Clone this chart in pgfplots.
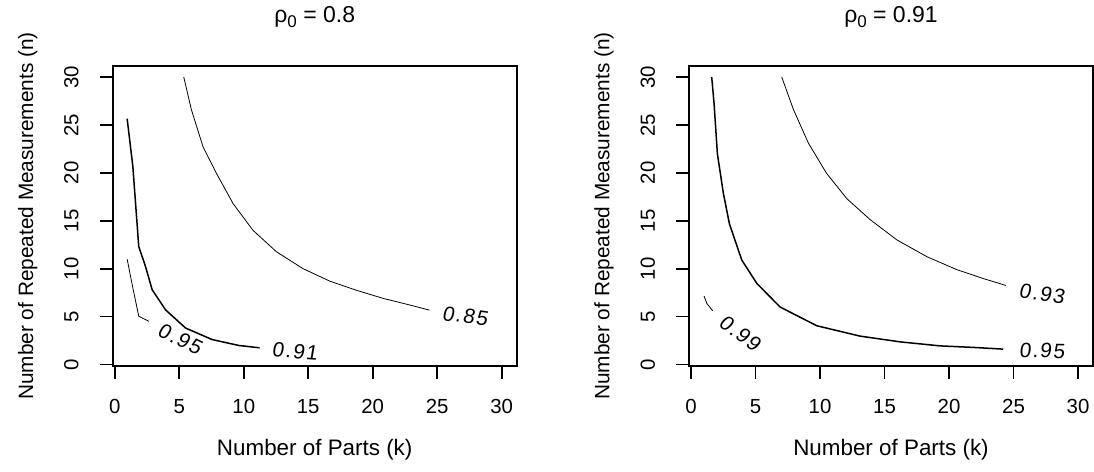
\documentclass[border=0pt]{standalone}
\usepackage{pgfplots}
\pgfplotsset{compat=1.18}
\usepackage{fontspec}
\setmainfont{Liberation Sans}
\newfontfamily\hfont[FakeSlant=0.1, LetterSpace=8]{Liberation Sans}
\newcommand{\tck}{\fontsize{10.2bp}{12bp}\selectfont}
\newcommand{\xlab}{\fontsize{11.2bp}{13bp}\selectfont}
\newcommand{\ylab}{\fontsize{10.4bp}{12bp}\selectfont}
\newcommand{\ttl}{\fontsize{11.5bp}{14bp}\selectfont}
\tikzset{contlab/.style={font=\hfont\fontsize{10.4bp}{12bp}\selectfont, inner sep=0pt}}
\begin{document}
\begin{tikzpicture}
\path[use as bounding box] (0,0) rectangle (547bp,236bp);
\pgfplotsset{myaxis/.style={scale only axis, width=202bp, height=150bp,
  anchor=south west,
  xmin=-0.16, xmax=31.16, ymin=-0.16, ymax=31.16,
  xtick={0,5,...,30}, ytick={0,5,...,30},
  tick pos=left, tick align=outside, major tick length=6.5bp,
  axis line style={line width=0.9bp},
  tick style={black, line width=0.9bp},
  tick label style={font=\tck},
  /pgf/number format/assume math mode=true,
  yticklabel style={rotate=90, anchor=south},
  xticklabel style={anchor=north},
  xticklabel shift=6.5bp, yticklabel shift=7bp,
  clip=false,
  cycle list={{black, line width=0.75bp, mark=none}}}}
\begin{axis}[myaxis, at={(56.35bp,53bp)}]
\addplot coordinates {(5.35,30.0) (5.94,26.6) (6.85,22.7) (7.88,19.96) (9.17,16.8) (10.72,14.0) (12.53,11.77) (14.6,10.0) (16.67,8.7) (18.7,7.76) (20.8,6.9) (22.9,6.2) (24.4,5.67)};
\addplot coordinates {(0.96,25.66) (1.40,20.7) (1.86,12.3) (2.38,10.25) (2.9,7.8) (3.94,5.7) (5.49,3.8) (7.55,2.6) (9.63,1.98) (11.23,1.74)};
\addplot coordinates {(0.96,11.0) (1.40,8.0) (1.86,5.04) (2.64,4.5)};
\node[contlab, rotate=-8] at (axis cs:27.16,5.04) {0.85};
\node[contlab, rotate=-4] at (axis cs:13.96,1.36) {0.91};
\node[contlab, rotate=-25] at (axis cs:5.06,2.66) {0.95};
\end{axis}
\begin{axis}[myaxis, at={(344.5bp,53bp)}]
\addplot coordinates {(7.03,30.0) (7.94,26.6) (9.1,23.1) (10.5,19.96) (12.08,17.3) (13.9,15.1) (15.96,13.0) (18.3,11.24) (20.6,9.9) (22.7,8.95) (24.4,8.25)};
\addplot coordinates {(1.6,30.0) (1.78,27.3) (2.04,22.0) (2.5,17.9) (2.97,14.7) (3.93,10.9) (5.1,8.46) (6.9,6.0) (9.75,4.04) (13.1,2.96) (16.2,2.36) (19.3,1.94) (21.9,1.78) (24.2,1.6)};
\addplot coordinates {(1.01,7.14) (1.22,6.37) (1.68,5.6)};
\node[contlab, rotate=-8] at (axis cs:27.2,7.35) {0.93};
\node[contlab, rotate=-1] at (axis cs:27.2,1.44) {0.95};
\node[contlab, rotate=-37] at (axis cs:3.8,3.27) {0.99};
\end{axis}
\node[anchor=base, font=\ttl] at (157.35bp,224.6bp) {ρ\raisebox{-0.35ex}{\fontsize{8.5bp}{10bp}\selectfont 0}\ =\ 0.8};
\node[anchor=base, font=\ttl] at (445.5bp,224.6bp) {ρ\raisebox{-0.35ex}{\fontsize{8.5bp}{10bp}\selectfont 0}\ =\ 0.91};
\node[anchor=base, font=\xlab] at (157.35bp,8.5bp) {Number of Parts (k)};
\node[anchor=base, font=\xlab] at (445.5bp,8.5bp) {Number of Parts (k)};
\node[anchor=base, rotate=90, font=\ylab] at (16.5bp,128bp) {Number of Repeated Measurements (n)};
\node[anchor=base, rotate=90, font=\ylab] at (304.7bp,128bp) {Number of Repeated Measurements (n)};
\end{tikzpicture}
\end{document}
